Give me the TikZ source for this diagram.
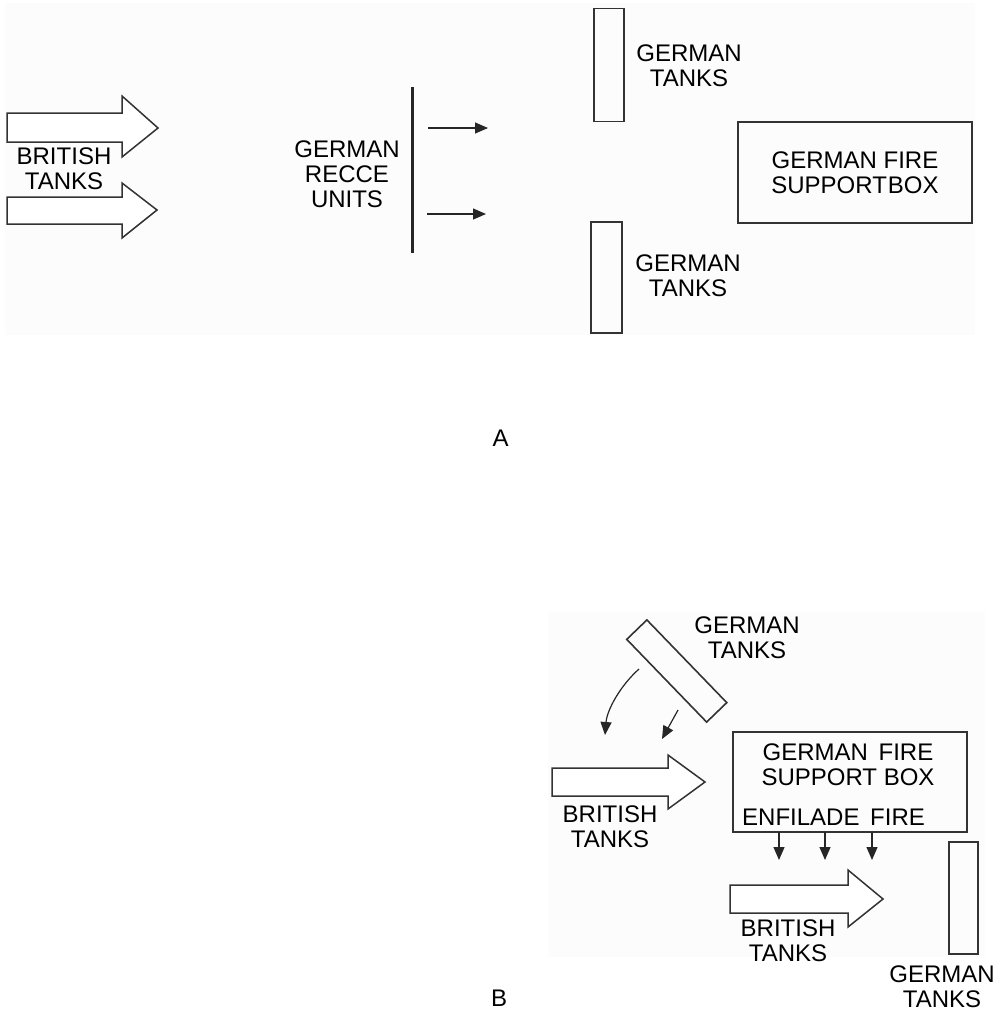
\documentclass[tikz,border=0pt]{standalone}
\usepackage{fontspec}
\setmainfont{Liberation Sans}
\usetikzlibrary{arrows.meta}
\begin{document}
\begin{tikzpicture}[x=1pt,y=-1pt,
  lbl/.style={font=\fontsize{24}{25}\selectfont, align=center, inner sep=0pt},
  tankbox/.style={draw=black!80, line width=1.6pt, rectangle, inner sep=0pt},
  firebox/.style={draw=black!80, line width=1.8pt, rectangle, inner sep=0pt},
  blockarrow/.style={draw=black!80, line width=1.5pt, line join=miter, fill=white},
  smallarrow/.style={draw=black!85, line width=1.2pt, -{Triangle[length=13pt,width=11pt]}},
  panel/.style={fill=black!1.2, draw=none}]
\useasboundingbox (0,0) rectangle (1005,1012);
\fill[white] (0,0) rectangle (1005,1012);
% scan panels
\path[panel] (5,3) rectangle (975,335);
\path[panel] (548,612) rectangle (985,957);

% ===== Panel A =====
\path[blockarrow] (7,113) -- (122,113) -- (122,96) -- (158,128) -- (122,157) -- (122,142) -- (7,142) -- cycle;
\path[blockarrow] (7,197) -- (122,197) -- (122,183) -- (157,210) -- (122,238) -- (122,224) -- (7,224) -- cycle;
\node[lbl] (btA) at (64,169) {BRITISH\\TANKS};

\coordinate (recceTop) at (412,87);
\coordinate (recceBot) at (412,253);
\draw[line width=3pt, black!85] (recceTop) -- (recceBot);
\node[lbl] (recce) at (347,174) {GERMAN\\RECCE\\UNITS};
\coordinate (a1s) at (428,128); \coordinate (a1e) at (488,128);
\coordinate (a2s) at (427,214); \coordinate (a2e) at (486,214);
\draw[smallarrow] (a1s) -- (a1e);
\draw[smallarrow] (a2s) -- (a2e);

\node[tankbox, minimum width=30pt, minimum height=113pt] (gtA1) at (609,65) {};
\node[lbl] (gtA1l) at (689,66) {GERMAN\\TANKS};
\node[tankbox, minimum width=31pt, minimum height=111pt] (gtA2) at (606.5,277.5) {};
\node[lbl] (gtA2l) at (688,276) {GERMAN\\TANKS};

\node[firebox, minimum width=234pt, minimum height=101pt] (fbA) at (855,172.5) {};
\node[lbl] (fbAl) at (fbA.center) {GERMAN FIRE\\SUPPORT\hspace{1pt}BOX};

\node[lbl] (labA) at (500.5,438) {A};

% ===== Panel B =====
\node[tankbox, minimum width=115pt, minimum height=28pt, rotate=-46] (gtB1) at (676.75,671) {};
\node[lbl] (gtB1l) at (747,637.5) {GERMAN\\TANKS};
\coordinate (c1s) at (639,669); \coordinate (c1e) at (605,735);
\coordinate (c2s) at (678,710); \coordinate (c2e) at (662,739);
\draw[smallarrow] (c1s) .. controls (620,686) and (607,710) .. (c1e);
\draw[smallarrow] (c2s) -- (c2e);

\node[firebox, minimum width=234pt, minimum height=100pt] (fbB) at (850,782) {};
\node[lbl] (fbBl) at (848,765) {GERMAN\hspace{4pt} FIRE\\SUPPORT BOX};
\node[lbl, anchor=base west] (enf) at (742,825) {ENFILADE\hspace{4pt} FIRE};
\foreach \i/\xx in {1/779,2/825,3/872}{
  \coordinate (d\i s) at (\xx,832);
  \coordinate (d\i e) at (\xx,860);
  \draw[smallarrow] (d\i s) -- (d\i e);
}

\path[blockarrow] (552,768) -- (668,768) -- (668,755) -- (705,782) -- (668,809) -- (668,796) -- (552,796) -- cycle;
\node[lbl] (btB1) at (610,827) {BRITISH\\TANKS};
\path[blockarrow] (730,885) -- (848,885) -- (848,870) -- (883,899) -- (848,927) -- (848,913) -- (730,913) -- cycle;
\node[lbl] (btB2) at (788,941) {BRITISH\\TANKS};

\node[tankbox, minimum width=29pt, minimum height=112pt] (gtB2) at (963.5,898) {};
\node[lbl] (gtB2l) at (942,987) {GERMAN\\TANKS};

\node[lbl] (labB) at (499,998) {B};
\end{tikzpicture}
\end{document}
